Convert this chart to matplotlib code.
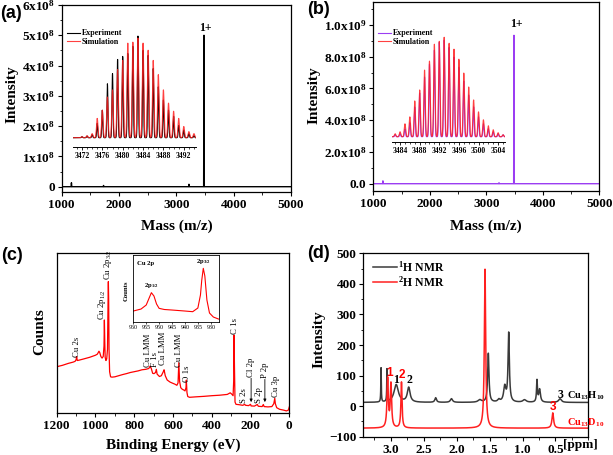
import numpy as np
import matplotlib
matplotlib.use('Agg')
from matplotlib import pyplot as plt
from matplotlib.ticker import MultipleLocator

plt.rcParams['font.family'] = 'Liberation Serif'
plt.rcParams['font.weight'] = 'bold'
plt.rcParams['mathtext.fontset'] = 'custom'
plt.rcParams['mathtext.rm'] = 'Liberation Serif'
plt.rcParams['mathtext.bf'] = 'Liberation Serif:bold'
plt.rcParams['mathtext.it'] = 'Liberation Serif:italic'
plt.rcParams['mathtext.default'] = 'regular'

W, H = 613, 455

# ---------------- data ----------------
# (a) mass spectrum of Cu13H10, full range
ms_a_mass = [1170, 1730, 3220, 3482]
ms_a_int = [0.13e8, 0.04e8, 0.08e8, 5.0e8]
# (a) inset isotope pattern (normalised heights)
iso_a_mz = [3472, 3473, 3474, 3475, 3476, 3477, 3478, 3479, 3480, 3481, 3482, 3483,
            3484, 3485, 3486, 3487, 3488, 3489, 3490, 3491, 3492, 3493, 3494]
iso_a_exp = [0.01, 0.015, 0.03, 0.14, 0.27, 0.53, 0.63, 0.77, 0.80, 0.83, 0.90, 1.00,
             0.86, 0.81, 0.68, 0.50, 0.37, 0.27, 0.21, 0.12, 0.075, 0.04, 0.02]
iso_a_sim = [0.01, 0.02, 0.04, 0.19, 0.27, 0.40, 0.47, 0.67, 0.76, 0.93, 0.94, 0.98,
             0.93, 0.86, 0.76, 0.62, 0.47, 0.34, 0.26, 0.19, 0.11, 0.06, 0.04]
iso_a_ticks = [3472, 3476, 3480, 3484, 3488, 3492]

# (b) mass spectrum of Cu13D10
ms_b_mass = [1170, 3225, 3490]
ms_b_int = [0.018e9, 0.006e9, 0.935e9]
iso_b_mz = [3483, 3484, 3485, 3486, 3487, 3488, 3489, 3490, 3491, 3492, 3493, 3494,
            3495, 3496, 3497, 3498, 3499, 3500, 3501, 3502, 3503, 3504, 3505]
iso_b_sim = [0.03, 0.05, 0.13, 0.20, 0.36, 0.47, 0.67, 0.76, 0.93, 0.96, 1.00, 0.94,
             0.88, 0.78, 0.64, 0.50, 0.37, 0.25, 0.17, 0.11, 0.07, 0.04, 0.02]
iso_b_exp = [0.02, 0.03, 0.08, 0.14, 0.30, 0.44, 0.60, 0.73, 0.87, 0.95, 0.97, 0.90,
             0.80, 0.70, 0.56, 0.42, 0.30, 0.20, 0.13, 0.08, 0.05, 0.03, 0.02]
iso_b_ticks = [3484, 3488, 3492, 3496, 3500, 3504]

# (c) XPS survey: binding energy (eV) and counts (arb.)
xps_be = [1200, 1170, 1140, 1115, 1105, 1100, 1097, 1094, 1085, 1060, 1030, 1000, 990,
          982, 978, 972, 966, 960, 956, 954, 952, 950, 946, 942, 938, 935, 933.5, 932,
          930, 927, 922, 915, 900, 880, 860, 840, 820, 800, 780, 760, 740, 725, 718,
          712, 705, 698, 690, 686, 682, 670, 660, 650, 646, 640, 630, 615, 600, 590,
          580, 574, 570, 566, 560, 552, 545, 538, 533, 531, 528, 524, 515, 480, 440,
          400, 360, 320, 305, 297, 290, 287, 285, 283, 280, 275, 260, 240, 230, 226,
          210, 200, 197, 180, 165, 160, 140, 134, 130, 110, 90, 80, 75, 72, 65, 50,
          30, 15, 5, 0]
xps_counts = [29.1, 30.0, 31.2, 32.0, 32.5, 33.5, 35.4, 33.0, 33.2, 34.0, 35.0, 36.3, 37.0,
              38.8, 38.0, 35.5, 34.5, 35.5, 42.0, 58.3, 45.0, 35.0, 33.0, 34.0, 40.0, 70.0,
              82.3, 72.0, 40.0, 26.0, 22.8, 22.6, 22.8, 23.5, 24.2, 24.8, 25.5, 26.0, 26.5,
              27.2, 27.5, 28.0, 29.5, 28.0, 25.0, 24.8, 25.5, 27.5, 24.5, 23.0, 23.5, 26.0,
              27.2, 23.5, 20.8, 19.5, 18.7, 18.2, 17.5, 19.0, 31.6, 20.0, 16.0, 15.0, 14.6,
              14.0, 16.0, 20.8, 13.0, 10.5, 10.0, 10.3, 10.6, 11.0, 11.3, 11.8, 12.8, 12.0,
              11.0, 20.0, 48.9, 30.0, 7.0, 5.6, 5.4, 5.0, 5.6, 5.0, 4.8, 5.6, 4.6, 4.5,
              5.5, 4.4, 4.2, 5.5, 4.2, 4.0, 4.2, 6.0, 9.4, 6.0, 3.5, 2.5, 2.0, 1.5, 2.0, 4.0]
# (c) peak labels: x position, y where the text starts, text, arrow or not
xps_lab_x = [1097, 968, 934, 727, 693, 650, 569, 529, 280, 234, 197, 156, 126, 69]
xps_lab_y = [35.2, 58.3, 83.3, 29.0, 29.0, 30.2, 29.0, 19.6, 49.6, 6.4, 22.7, 6.4, 22.0, 10.2]
xps_lab_txt = ['Cu 2s', r'Cu 2p$_{1/2}$', r'Cu 2p$_{3/2}$', 'Cu LMM', 'F 1s', 'Cu LMM',
               'Cu LMM', 'O 1s', 'C 1s', 'S 2s', 'Cl 2p', 'S 2p', 'P 2p', 'Cu 3p']
xps_lab_arrow = [False] * 10 + [True, False, True, False]
# (c) inset Cu 2p region
cu2p_be = [960, 957, 955, 953, 952, 951, 950, 948, 945, 940, 937, 935, 934, 933.5,
           932.9, 932.3, 931.5, 930.5, 929, 927]
cu2p_counts = [16, 19, 25, 43.5, 38.5, 26.5, 20, 18.3, 17.5, 16, 15, 20.5, 40, 62,
               80, 68.5, 32.5, 13, 7, 4]

# (d) NMR peaks: centre (ppm), height, half width
h1_center = [3.15, 3.06, 2.92, 2.73, 2.32, 2.08, 1.65, 1.52, 1.36, 1.27, 1.21, 0.97, 0.78, 0.74, 0.43]
h1_height = [112, 106, 58, 48, 15, 12, 8, 160, 8, 50, 225, 8, 70, 42, 12]
h1_width = [0.004, 0.004, 0.04, 0.025, 0.015, 0.02, 0.03, 0.012, 0.02, 0.02, 0.012, 0.03, 0.008, 0.015, 0.025]
h1_base = 12
h2_center = [3.05, 3.00, 2.84, 1.57, 0.54]
h2_height = [160, 142, 150, 520, 50]
h2_width = [0.012, 0.012, 0.01, 0.012, 0.015]
h2_base = -72


def px_axes(left, top, right, bottom):
    return fig.add_axes([left / W, 1 - bottom / H, (right - left) / W, (bottom - top) / H])


def style(ax, size=9.5):
    for s in ax.spines.values():
        s.set_linewidth(0.9)
    ax.tick_params(which='major', direction='out', length=3, width=0.8, labelsize=size, pad=2)
    ax.tick_params(which='minor', direction='out', length=1.8, width=0.6)


def stick_trace(pos, height, half, lo, hi):
    x, y = [lo], [0.0]
    for p, h in zip(pos, height):
        x += [p - half, p, p + half]
        y += [0.0, h, 0.0]
    x.append(hi)
    y.append(0.0)
    return x, y


def gauss(x, centers, heights, sigma):
    y = np.zeros_like(x)
    for c, h in zip(centers, heights):
        y += h * np.exp(-0.5 * ((x - c) / sigma) ** 2)
    return y


def lorentz(x, centers, heights, widths, base):
    y = np.full_like(x, float(base))
    for c, h, w in zip(centers, heights, widths):
        y += h / (1 + ((x - c) / w) ** 2)
    return y


fig = plt.figure(figsize=(W / 100, H / 100), dpi=100)
exp_purple = '#9B3DF2'

# ---------------- (a) ----------------
ax = px_axes(61.7, 5, 291, 191.7)
x, y = stick_trace(ms_a_mass, ms_a_int, 6, 1000, 5000)
ax.plot(x, y, color='black', lw=1)
ax.set_xlim(1000, 5000)
ax.set_ylim(-0.165e8, 6e8)
ax.set_xticks([1000, 2000, 3000, 4000, 5000])
ax.xaxis.set_minor_locator(MultipleLocator(500))
ax.set_yticks([0, 1e8, 2e8, 3e8, 4e8, 5e8, 6e8],
              labels=['0'] + [r'%dx10$^{8}$' % i for i in range(1, 7)])
ax.yaxis.set_minor_locator(MultipleLocator(0.5e8))
style(ax)
ax.text(3500, 5.25e8, '1+', ha='center', va='center', fontsize=8.5)

ins = px_axes(73.3, 31, 196, 146.7)
xi = np.linspace(3470.3, 3494.4, 2000)
ins.plot(xi, gauss(xi, iso_a_mz, iso_a_exp, 0.1), color='black', lw=0.8, label='Experiment')
ins.plot(xi, gauss(xi, iso_a_mz, iso_a_sim, 0.14), color='#FF2020', lw=0.8, alpha=0.85,
         label='Simulation')
ins.set_xlim(3470.3, 3494.4)
ins.set_ylim(-0.0885, 1.049)
ins.patch.set_visible(False)
for s in ['top', 'left', 'right']:
    ins.spines[s].set_visible(False)
ins.set_yticks([])
ins.set_xticks(iso_a_ticks)
ins.xaxis.set_minor_locator(MultipleLocator(1))
style(ins, 5.5)
ins.tick_params(which='major', length=2, width=0.6, pad=1.5)
ins.tick_params(which='minor', length=1.2, width=0.5)
ins.spines['bottom'].set_linewidth(0.7)
ins.legend(loc='upper left', bbox_to_anchor=(66.7 / W, 1 - 29.4 / H),
           bbox_transform=fig.transFigure, frameon=False, fontsize=5.7, borderpad=0,
           borderaxespad=0, handlelength=1.68, handletextpad=0.25, labelspacing=0.1)

fig.text(12 / W, 1 - 94 / H, 'Intensity', rotation=90, ha='center', va='center', fontsize=11)
fig.text(176.4 / W, 1 - 226 / H, 'Mass (m/z)', ha='center', va='center', fontsize=11)

# ---------------- (b) ----------------
ax = px_axes(373.3, 2, 599.3, 191)
x, y = stick_trace(ms_b_mass, ms_b_int, 6, 1000, 5000)
ax.plot(x, y, color=exp_purple, lw=1)
ax.set_xlim(1000, 5000)
ax.set_ylim(-0.046e9, 1.145e9)
ax.set_xticks([1000, 2000, 3000, 4000, 5000])
ax.xaxis.set_minor_locator(MultipleLocator(500))
ax.set_yticks([0, 2e8, 4e8, 6e8, 8e8, 1e9],
              labels=['0.0'] + [r'%.1fx10$^{8}$' % i for i in (2, 4, 6, 8)] + [r'1.0x10$^{9}$'])
ax.yaxis.set_minor_locator(MultipleLocator(1e8))
style(ax)
ax.text(3538, 1.006e9, '1+', ha='center', va='center', fontsize=8.5)

ins = px_axes(391.7, 30, 505, 141.7)
xi = np.linspace(3482.3, 3505.4, 2000)
ins.plot(xi, gauss(xi, iso_b_mz, iso_b_exp, 0.11), color=exp_purple, lw=0.8, label='Experiment')
ins.plot(xi, gauss(xi, iso_b_mz, iso_b_sim, 0.14), color='#FF2020', lw=0.8, alpha=0.85,
         label='Simulation')
ins.set_xlim(3482.3, 3505.4)
ins.set_ylim(-0.05, 1.073)
ins.patch.set_visible(False)
for s in ['top', 'left', 'right']:
    ins.spines[s].set_visible(False)
ins.set_yticks([])
ins.set_xticks(iso_b_ticks)
ins.xaxis.set_minor_locator(MultipleLocator(1))
style(ins, 5.5)
ins.tick_params(which='major', length=2, width=0.6, pad=1.5)
ins.tick_params(which='minor', length=1.2, width=0.5)
ins.spines['bottom'].set_linewidth(0.7)
ins.legend(loc='upper left', bbox_to_anchor=(378 / W, 1 - 29.4 / H),
           bbox_transform=fig.transFigure, frameon=False, fontsize=5.7, borderpad=0,
           borderaxespad=0, handlelength=1.65, handletextpad=0.25, labelspacing=0.05)

fig.text(314 / W, 1 - 95 / H, 'Intensity', rotation=90, ha='center', va='center', fontsize=11)
fig.text(486.3 / W, 1 - 226 / H, 'Mass (m/z)', ha='center', va='center', fontsize=11)

# ---------------- (c) ----------------
ax = px_axes(56.7, 253.3, 289.3, 413.3)
ax.plot(xps_be, xps_counts, color='red', lw=0.9)
ax.set_xlim(1200, 0)
ax.set_ylim(0, 100)
ax.set_xticks([1200, 1000, 800, 600, 400, 200, 0])
ax.xaxis.set_minor_locator(MultipleLocator(100))
ax.set_yticks([])
style(ax)
for bx, by, t, arr in zip(xps_lab_x, xps_lab_y, xps_lab_txt, xps_lab_arrow):
    ax.text(bx, by, t, rotation=90, ha='center', va='bottom', fontsize=6.3,
            fontweight='normal', clip_on=False)
    if arr:
        ax.annotate('', xy=(bx, 7), xytext=(bx, by - 0.8),
                    arrowprops=dict(arrowstyle='-|>', lw=0.6, color='black',
                                    mutation_scale=4, shrinkA=0, shrinkB=0))

ins = px_axes(133.3, 255, 219.3, 321.7)
ins.plot(cu2p_be, cu2p_counts, color='red', lw=0.8)
ins.set_xlim(960, 926.7)
ins.set_ylim(0, 100)
ins.set_xticks([960, 955, 950, 945, 940, 935, 930])
ins.set_yticks([])
style(ins, 4.3)
ins.tick_params(which='major', length=1.5, width=0.5, pad=1)
for s in ins.spines.values():
    s.set_linewidth(0.6)
for lab in ins.get_xticklabels():
    lab.set_fontweight('normal')
ins.text(0.04, 0.88, 'Cu 2p', transform=ins.transAxes, fontsize=4.8, va='center')
ins.text(953, 47, r'2p$_{1/2}$', ha='center', va='bottom', fontsize=4.8)
ins.text(932.9, 84, r'2p$_{3/2}$', ha='center', va='bottom', fontsize=4.8)
fig.text(126 / W, 1 - 291 / H, 'Counts', rotation=90, ha='center', va='center', fontsize=4.8)

fig.text(40 / W, 1 - 332 / H, 'Counts', rotation=90, ha='center', va='center', fontsize=11)
fig.text(173 / W, 1 - 445 / H, 'Binding Energy (eV)', ha='center', va='center', fontsize=11)

# ---------------- (d) ----------------
ax = px_axes(363.3, 253.3, 588.3, 436.7)
xp = np.linspace(3.42, 0.0, 5000)
ax.plot(xp, lorentz(xp, h1_center, h1_height, h1_width, h1_base), color='#3a3a3a', lw=1.1,
        label=r'$^{1}$H NMR')
ax.plot(xp, lorentz(xp, h2_center, h2_height, h2_width, h2_base), color='#FF2020', lw=1.1,
        label=r'$^{2}$H NMR')
ax.set_xlim(3.42, 0.0)
ax.set_ylim(-100, 500)
ax.set_xticks([3.0, 2.5, 2.0, 1.5, 1.0, 0.5])
ax.xaxis.set_minor_locator(MultipleLocator(0.25))
ax.set_yticks([-100, 0, 100, 200, 300, 400, 500])
ax.yaxis.set_minor_locator(MultipleLocator(50))
style(ax)
ax.legend(loc='upper left', bbox_to_anchor=(373 / W, 1 - 259.8 / H),
          bbox_transform=fig.transFigure, frameon=False, fontsize=8.5, borderpad=0,
          borderaxespad=0, handlelength=2.0, handletextpad=0.15, labelspacing=0.05)
for px_, vy, t in [(2.928, 84, '1'), (2.725, 84, '2'), (0.43, 38, '3')]:
    ax.text(px_, vy, t, ha='center', va='center', fontsize=8.5, color='black')
for px_, vy, t in [(3.014, 109, '1'), (2.836, 101, '2'), (0.532, -3, '3')]:
    ax.text(px_, vy, t, ha='center', va='center', fontsize=8.5, color='red',
            family='Liberation Sans')
ax.text(0.33, 32.6, r'Cu$_{13}$H$_{10}$', ha='left', va='center', fontsize=7.5,
        color='black', clip_on=False)
ax.text(0.33, -54, r'Cu$_{13}$D$_{10}$', ha='left', va='center', fontsize=7.5,
        color='red', clip_on=False)
fig.text(580 / W, 1 - 445 / H, '[ppm]', ha='center', va='center', fontsize=9.5)
fig.text(319 / W, 1 - 339 / H, 'Intensity', rotation=90, ha='center', va='center', fontsize=11)

# panel letters
for lx, ly, t in [(11, 14, '(a)'), (318.5, 9, '(b)'), (12, 255, '(c)'), (318, 253, '(d)')]:
    fig.text(lx / W, 1 - ly / H, t, ha='center', va='center', fontsize=13,
             family='Liberation Sans', fontweight='bold')

fig.savefig('out.png', dpi=100)
